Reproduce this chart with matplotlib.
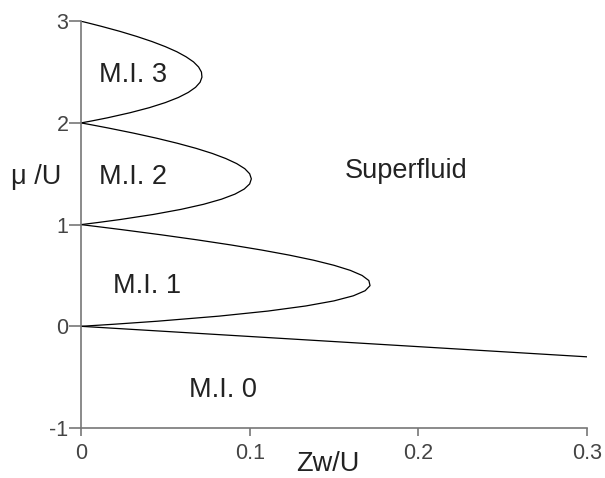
import numpy as np
import matplotlib
matplotlib.use('Agg')
import matplotlib.pyplot as plt

plt.rcParams['font.family'] = ['Liberation Sans', 'DejaVu Sans']
plt.rcParams['axes.unicode_minus'] = False

# offset of mu/U inside each lobe (mu/U = n - 1 + s)
s = [0, 0.02, 0.05, 0.1, 0.15, 0.2, 0.25, 0.3, 0.35, 0.4, 0.45, 0.5, 0.55, 0.6,
     0.65, 0.7, 0.75, 0.8, 0.85, 0.9, 0.95, 0.98, 1]

# Zw/U of the lobe boundary
lobe1 = [0, 0.0192, 0.0452, 0.0818, 0.1109, 0.1333, 0.15, 0.1615, 0.1685, 0.1714, 0.1707,
         0.1667, 0.1597, 0.15, 0.1379, 0.1235, 0.1071, 0.0889, 0.0689, 0.0474, 0.0244, 0.0099, 0]
lobe2 = [0, 0.0097, 0.0232, 0.0429, 0.0593, 0.0727, 0.0833, 0.0913, 0.0968, 0.1, 0.1010,
         0.1, 0.0971, 0.0923, 0.0858, 0.0778, 0.0682, 0.0571, 0.0447, 0.0310, 0.0161, 0.0066, 0]
lobe3 = [0, 0.0065, 0.0156, 0.0290, 0.0405, 0.05, 0.0577, 0.0636, 0.0679, 0.0706, 0.0717,
         0.0714, 0.0697, 0.0667, 0.0623, 0.0568, 0.05, 0.0421, 0.0331, 0.0231, 0.0120, 0.0049, 0]

# vacuum boundary
zw0 = [0, 0.3]
mu0 = [0, -0.3]

labels = ['M.I. 0', 'M.I. 1', 'M.I. 2', 'M.I. 3', 'Superfluid']
label_x = [0.084, 0.039, 0.031, 0.031, 0.193]
label_y = [-0.63, 0.40, 1.47, 2.47, 1.53]

xticks = [0, 0.1, 0.2, 0.3]
yticks = [-1, 0, 1, 2, 3]

fig = plt.figure(figsize=(6.05, 4.78), dpi=100)
ax = fig.add_axes([0.134, 0.1046, 0.836, 0.851])

for n, lobe in enumerate([lobe1, lobe2, lobe3], start=1):
    ax.plot(lobe, np.array(s) + n - 1, color='black', lw=0.9)
ax.plot(zw0, mu0, color='black', lw=0.9)

for t, x, y in zip(labels, label_x, label_y):
    ax.text(x, y, t, fontsize=19.5, color='#222222', ha='center', va='center')

ax.set_xlim(0, 0.3)
ax.set_ylim(-1, 3)
ax.set_xticks(xticks)
ax.set_xticklabels(['0', '0.1', '0.2', '0.3'])
ax.set_yticks(yticks)
ax.set_yticklabels([str(v) for v in yticks])

for side in ['top', 'right']:
    ax.spines[side].set_visible(False)
for side in ['left', 'bottom']:
    ax.spines[side].set_color('#777777')
    ax.spines[side].set_linewidth(1.2)
ax.tick_params(axis='x', direction='out', length=6, width=1.2, color='#777777',
               labelsize=15.5, labelcolor='#444444', pad=5)
ax.tick_params(axis='y', direction='out', length=9, width=1.2, color='#777777',
               labelsize=15.5, labelcolor='#444444', pad=0)

fig.text(36 / 605, 1 - 177 / 478, 'μ /U', fontsize=19.5, color='#222222', ha='center', va='center')
fig.text(328 / 605, 1 - 464 / 478, 'Zw/U', fontsize=19.5, color='#222222', ha='center', va='center')

fig.savefig('out.png', dpi=100)
